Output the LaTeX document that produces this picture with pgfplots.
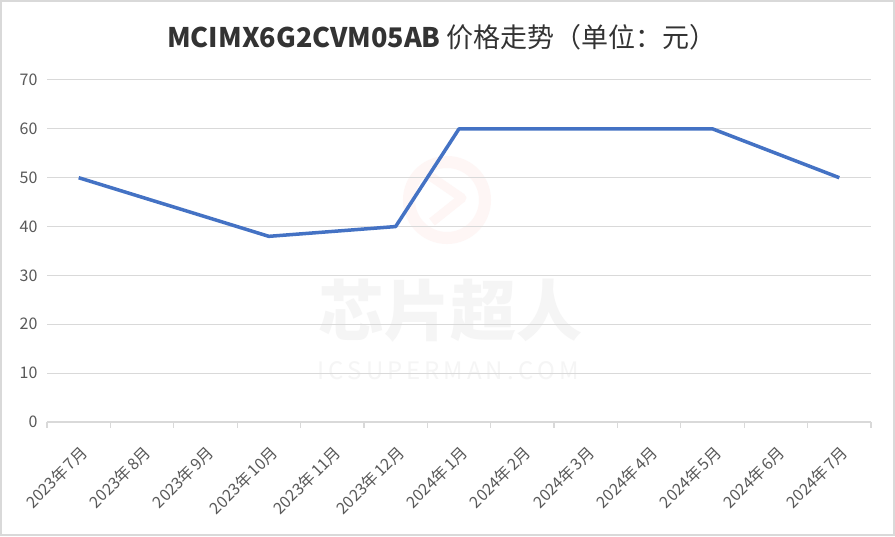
\documentclass[border=0pt]{standalone}
\usepackage{pgfplots}
\pgfplotsset{compat=1.18}
\usepackage{fontspec}
\setmainfont{Noto Sans CJK SC}
\definecolor{linecol}{HTML}{4472C4}
\definecolor{gridcol}{HTML}{D9D9D9}
\definecolor{labcol}{HTML}{595959}
\definecolor{titlecol}{HTML}{333333}
\definecolor{wmred}{HTML}{FEF6F5}
\newcommand{\ym}[2]{#1年\hspace{2pt}#2月}
\begin{document}
\begin{tikzpicture}[x=1pt,y=1pt]
% page and frame
\fill[white] (0,0) rectangle (895,536);
\draw[gridcol, line width=1.5pt] (1,1) rectangle (894,535);
% faint watermark
\draw[wmred, line width=12pt] (447,336) circle (38);
\draw[wmred, line width=9pt, line join=round] (430,360) -- (462,338) -- (432,314);
\node[font=\fontsize{66}{66}\selectfont\bfseries, text=black!4] at (450,225) {芯片超人};
\node[font=\fontsize{24}{24}\selectfont, text=black!4] at (448,165) {I\,C\,S\,U\,P\,E\,R\,M\,A\,N\,.\,C\,O\,M};
% title
\node[font=\fontsize{27}{27}\selectfont, text=titlecol] at (442,499) {\textbf{MCIMX6G2CVM05AB} 价格走势（单位：元）};
\begin{axis}[
    at={(47pt,114pt)}, anchor=south west,
    scale only axis,
    width=824pt, height=342pt,
    xmin=-0.5, xmax=12.5,
    ymin=0, ymax=70,
    ytick={0,10,...,70},
    xtick={0,...,12},
    xticklabels={\ym{2023}{7},\ym{2023}{8},\ym{2023}{9},\ym{2023}{10},\ym{2023}{11},\ym{2023}{12},\ym{2024}{1},\ym{2024}{2},\ym{2024}{3},\ym{2024}{4},\ym{2024}{5},\ym{2024}{6},\ym{2024}{7}},
    major tick length=0pt,
    xtick pos=bottom, ytick pos=left,
    extra x ticks={-0.5,0.5,...,12.5},
    extra x tick labels={},
    extra x tick style={grid=none, major tick length=6pt, tick align=outside, tick style={draw=gridcol, line width=1.2pt}},
    axis line style={draw=none},
    ymajorgrids,
    grid style={draw=gridcol, line width=1pt},
    y tick label style={font=\fontsize{16}{16}\selectfont, text=labcol, xshift=-6pt},
    x tick label style={font=\fontsize{16}{16}\selectfont, text=labcol, xshift=8pt, yshift=-25pt, rotate=45, anchor=east},
    /pgf/number format/assume math mode=true,
    clip=false,
]
\draw[gridcol, line width=1.5pt] (axis cs:-0.5,0) -- (axis cs:12.5,0);
\addplot[linecol, line width=3.5pt, line join=round, mark=none] coordinates {
    (0,50) (1,46) (2,42) (3,38) (4,39) (5,40) (6,60)
    (7,60) (8,60) (9,60) (10,60) (11,55) (12,50)
};
\end{axis}
\end{tikzpicture}
\end{document}
